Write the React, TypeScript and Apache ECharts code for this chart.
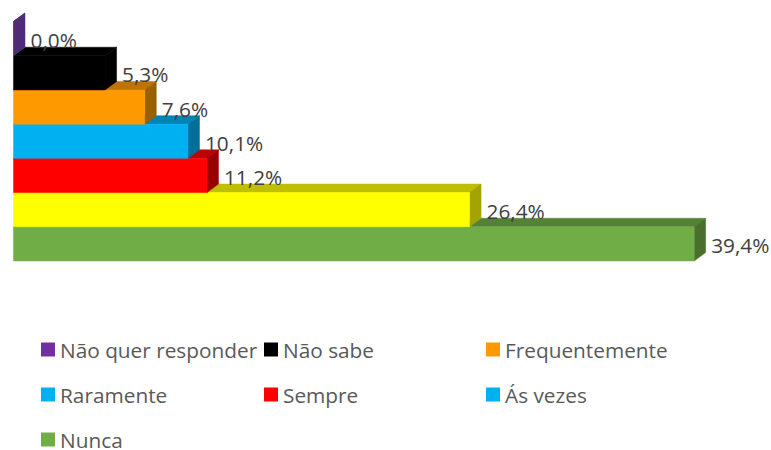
import React, { useEffect, useRef } from "react";
import * as echarts from "echarts";

const categories = ["Não quer responder", "Não sabe", "Frequentemente", "Raramente", "Sempre", "Ás vezes", "Nunca"];
const values = [0.0, 5.3, 7.6, 10.1, 11.2, 26.4, 39.4];

const frontColors = ["#7030A0", "#000000", "#FF9900", "#00B0F0", "#FF0000", "#FFFF00", "#70AD47"];
const topColors = ["#4E2A78", "#000000", "#BF7300", "#0084B4", "#BF0000", "#BFBF00", "#548235"];
const sideColors = ["#4E2A78", "#000000", "#996100", "#006F99", "#990000", "#A3A300", "#4A6F2C"];
const legendColors = ["#7030A0", "#000000", "#FF9900", "#00B0F0", "#FF0000", "#00B0F0", "#70AD47"];

const legendLefts = [41, 264, 486, 41, 264, 486, 41];
const legendTops = [339, 339, 339, 384, 384, 384, 429];

const DEPTH_X = 11.5;
const DEPTH_Y = 8.5;
const FONT = "'Open Sans', sans-serif";
const FONT_SIZE = 20.8;

export default function App() {
  const ref = useRef<HTMLDivElement>(null);
  useEffect(() => {
    const chart = echarts.init(ref.current!, null, { renderer: "svg" });
    const series = categories
      .map((name, i) => ({
        type: "custom",
        name,
        silent: true,
        clip: false,
        itemStyle: { color: frontColors[i] },
        encode: { x: 0, y: 1 },
        data: [[values[i], i]],
        renderItem: (_: any, api: any) => {
          const v = api.value(0);
          const cat = api.value(1);
          const [x0, yc] = api.coord([0, cat]);
          const [x1] = api.coord([v, cat]);
          const h = api.size([0, 1])[1];
          const yT = yc - h / 2;
          const yB = yc + h / 2;
          return {
            type: "group",
            children: [
              {
                type: "polygon",
                shape: { points: [[x0, yT], [x1, yT], [x1 + DEPTH_X, yT - DEPTH_Y], [x0 + DEPTH_X, yT - DEPTH_Y]] },
                style: { fill: topColors[i], stroke: topColors[i], lineWidth: 0.5 },
              },
              {
                type: "polygon",
                shape: { points: [[x1, yT], [x1 + DEPTH_X, yT - DEPTH_Y], [x1 + DEPTH_X, yB - DEPTH_Y], [x1, yB]] },
                style: { fill: sideColors[i], stroke: sideColors[i], lineWidth: 0.5 },
              },
              {
                type: "rect",
                shape: { x: x0, y: yT, width: x1 - x0, height: h },
                style: { fill: frontColors[i], stroke: frontColors[i], lineWidth: 0.5 },
              },
              {
                type: "text",
                z2: 10,
                style: {
                  text: v.toFixed(1).replace(".", ",") + "%",
                  x: x1 + DEPTH_X + 5.5,
                  y: yc + 1.5,
                  fill: "#404040",
                  fontSize: FONT_SIZE,
                  fontFamily: FONT,
                  align: "left",
                  verticalAlign: "middle",
                },
              },
            ],
          };
        },
      }))
      .reverse();

    chart.setOption({
      animation: false,
      backgroundColor: "#FFFFFF",
      grid: { left: 13.5, top: 21.5, width: 691, height: 239.5 },
      xAxis: { type: "value", min: 0, max: 40, show: false },
      yAxis: { type: "category", data: categories, inverse: true, show: false },
      legend: categories.map((name, i) => ({
        orient: "horizontal",
        left: legendLefts[i],
        top: legendTops[i],
        padding: 0,
        itemWidth: 14,
        itemHeight: 14,
        icon: "rect",
        selectedMode: false,
        textStyle: { color: "#595959", fontSize: FONT_SIZE, fontFamily: FONT, lineHeight: 20 },
        data: [{ name, itemStyle: { color: legendColors[i] } }],
      })),
      series,
    });
    return () => chart.dispose();
  }, []);
  return <div ref={ref} style={{ position: "fixed", left: 0, top: 0, width: 771, height: 450 }} />;
}
